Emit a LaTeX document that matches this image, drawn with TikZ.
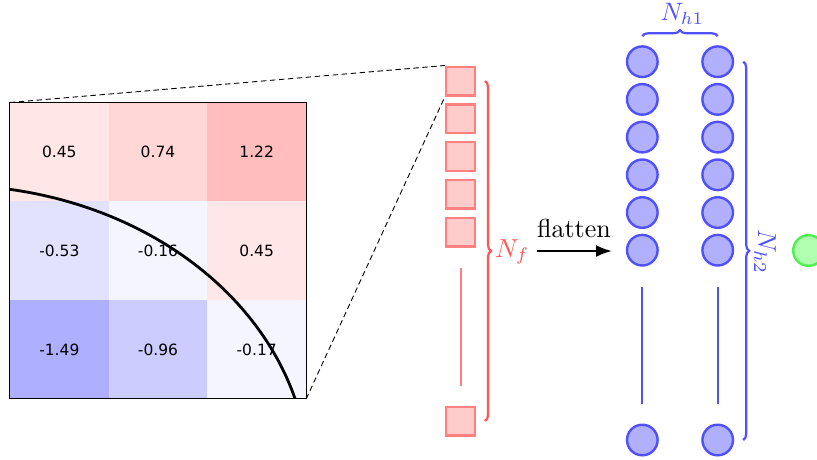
\documentclass[tikz,border=0pt]{standalone}
\usepackage{fontspec}
\newfontfamily\dejavu{DejaVu Sans}
\usetikzlibrary{decorations.pathreplacing,arrows.meta}
\definecolor{cA}{RGB}{255,231,231}
\definecolor{cB}{RGB}{255,215,215}
\definecolor{cC}{RGB}{255,189,189}
\definecolor{cD}{RGB}{226,226,255}
\definecolor{cE}{RGB}{245,245,255}
\definecolor{cF}{RGB}{175,175,255}
\definecolor{cG}{RGB}{204,204,255}
\definecolor{sqfill}{RGB}{255,204,204}
\definecolor{sqdraw}{RGB}{255,128,128}
\definecolor{redbr}{RGB}{255,85,85}
\definecolor{bfill}{RGB}{176,176,255}
\definecolor{bdraw}{RGB}{80,80,255}
\definecolor{gfill}{RGB}{176,255,176}
\definecolor{gdraw}{RGB}{80,240,80}
\begin{document}
\begin{tikzpicture}[x=1pt,y=-1pt,
  cell/.style={minimum size=98.67pt,inner sep=0pt,font=\dejavu\fontsize{15.5}{18}\selectfont},
  sq/.style={draw=sqdraw,fill=sqfill,line width=2.4pt,minimum size=28.6pt,inner sep=0pt},
  neuron/.style={circle,draw=bdraw,fill=bfill,line width=2.4pt,minimum size=30.6pt,inner sep=0pt},
  outneuron/.style={circle,draw=gdraw,fill=gfill,line width=2.4pt,minimum size=30.6pt,inner sep=0pt},
  bigtext/.style={scale=2.6,inner sep=0pt},
  zoomline/.style={dash pattern=on 5.5pt off 3.5pt,line width=0.9pt},
  bracestyle/.style={decorate,decoration={brace,amplitude=6pt},line width=2.2pt}]
\useasboundingbox (0,0) rectangle (817,459);
% grid
\node[cell,fill=cA] (c11) at (59.33,152.03) {0.45};
\node[cell,fill=cB] (c12) at (158.0,152.03) {0.74};
\node[cell,fill=cC] (c13) at (256.67,152.03) {1.22};
\node[cell,fill=cD] (c21) at (59.33,250.7) {-0.53};
\node[cell,fill=cE] (c22) at (158.0,250.7) {-0.16};
\node[cell,fill=cA] (c23) at (256.67,250.7) {0.45};
\node[cell,fill=cF] (c31) at (59.33,349.37) {-1.49};
\node[cell,fill=cG] (c32) at (158.0,349.37) {-0.96};
\node[cell,fill=cE] (c33) at (256.67,349.37) {-0.17};
\draw[line width=0.9pt] (c11.north west) rectangle (c33.south east);
\begin{scope}
\clip (c11.north west) rectangle (c33.south east);
\draw[line width=2.8pt] plot[domain=10:88,samples=80,smooth] ({-50+359*cos(\x)},{480-294.8*sin(\x)});
\end{scope}
% flattened vector
\node[sq] (s1) at (460.5,81) {};
\node[sq] (s2) at (460.5,118.75) {};
\node[sq] (s3) at (460.5,156.5) {};
\node[sq] (s4) at (460.5,194.25) {};
\node[sq] (s5) at (460.5,232) {};
\node[sq] (s6) at (460.5,421) {};
\draw[sqdraw,line width=2pt] ([yshift=-20pt]s5.south) -- ([yshift=20pt]s6.north);
\draw[zoomline] (c11.north west) -- (s1.north west);
\draw[zoomline] (c33.south east) -- (s1.south west);
\draw[bracestyle,redbr] ([xshift=24.5pt]s1.center) -- ([xshift=24.5pt]s6.center);
\node[bigtext,text=redbr,anchor=base west] (nf) at (494.5,257) {$N_f$};
% flatten arrow
\coordinate (fa) at (537,251);
\coordinate (fb) at (612,251);
\draw[line width=2.3pt,-{Latex[length=16pt,width=12pt]}] (fa) -- (fb);
\node[bigtext,anchor=base] (fl) at (574,237) {flatten};
% hidden layers
\foreach \i/\y in {1/61.7,2/99.4,3/137.1,4/174.8,5/212.5,6/250.2,7/440} {
  \node[neuron] (a\i) at (642.3,\y) {};
  \node[neuron] (b\i) at (717.7,\y) {};
}
\draw[bdraw,line width=2.2pt] ([yshift=-20pt]a6.south) -- ([yshift=20pt]a7.north);
\draw[bdraw,line width=2.2pt] ([yshift=-20pt]b6.south) -- ([yshift=20pt]b7.north);
\draw[bracestyle,bdraw] ([yshift=25.5pt]a1.center) -- ([yshift=25.5pt]b1.center);
\node[bigtext,text=bdraw,anchor=base west,scale=0.97] (nh1) at (660,20.5) {$N_{h1}$};
\draw[bracestyle,bdraw] ([xshift=25.5pt]b1.center) -- ([xshift=25.5pt]b7.center);
\node[bigtext,text=bdraw,anchor=base west,rotate=-90] (nh2) at (758,229) {$N_{h2}$};
% output
\node[outneuron] (o) at (808.5,250.5) {};
\end{tikzpicture}
\end{document}
